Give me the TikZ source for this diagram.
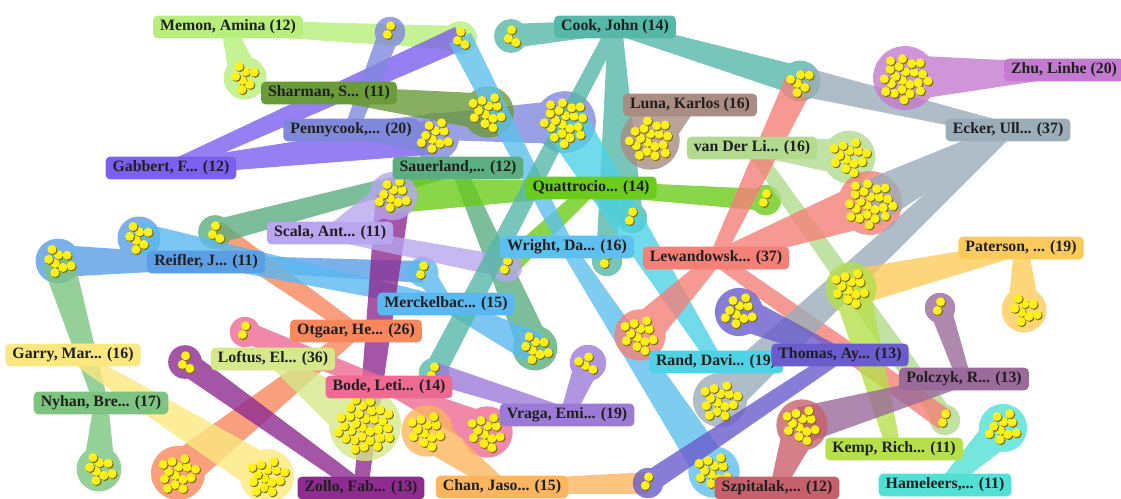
\documentclass[tikz,border=0pt]{standalone}
\usepackage{fontspec}
\setmainfont{Liberation Serif}
\usetikzlibrary{calc}

\pgfdeclarelayer{back}
\pgfdeclarelayer{front}
\pgfsetlayers{back,main,front}

% author colours
\definecolor{memonc}{HTML}{B8EF7C}
\definecolor{cookc}{HTML}{55B8A8}
\definecolor{zhuc}{HTML}{C47AD0}
\definecolor{sharmanc}{HTML}{6A9A3A}
\definecolor{lunac}{HTML}{A98C82}
\definecolor{pennyc}{HTML}{8088DC}
\definecolor{eckerc}{HTML}{9AADB9}
\definecolor{vdlc}{HTML}{B2DB8F}
\definecolor{gabbertc}{HTML}{7A5FF0}
\definecolor{sauerc}{HTML}{5AAE80}
\definecolor{quatc}{HTML}{6CCC1C}
\definecolor{scalac}{HTML}{B8A6EE}
\definecolor{wrightc}{HTML}{5EC0EE}
\definecolor{lewc}{HTML}{F48078}
\definecolor{patc}{HTML}{FCCA5A}
\definecolor{reifc}{HTML}{5A9EE6}
\definecolor{merckc}{HTML}{5AB8F0}
\definecolor{otgaarc}{HTML}{F8875C}
\definecolor{garryc}{HTML}{FCE880}
\definecolor{loftusc}{HTML}{D6E88A}
\definecolor{randc}{HTML}{4ED2E6}
\definecolor{thomasc}{HTML}{6A5CCC}
\definecolor{polcc}{HTML}{9A6A9A}
\definecolor{bodec}{HTML}{EE6A94}
\definecolor{nyhanc}{HTML}{7CC480}
\definecolor{vragac}{HTML}{9C7AD8}
\definecolor{kempc}{HTML}{B6E04A}
\definecolor{zolloc}{HTML}{8E2A90}
\definecolor{chanc}{HTML}{FBB55E}
\definecolor{szpc}{HTML}{C8606C}
\definecolor{hamc}{HTML}{52E0D4}
\definecolor{dotyellow}{HTML}{FFF01A}
\definecolor{dotshade}{HTML}{7A6E00}
\colorlet{grp}{black}

\tikzset{
  author/.style={fill=#1, rounded corners=2.5pt, inner xsep=4pt, inner ysep=2.2pt,
    text height=6.5pt, text depth=2pt, font=\bfseries\fontsize{9}{10}\selectfont,
    text=black!88},
  group/.style={transparency group, opacity=0.8, /utils/exec={\colorlet{grp}{#1}}},
}

% a cluster of papers: name, x, y, number of papers
\newcommand{\clus}[4]{%
  \coordinate (#1) at (#2,#3);
  \expandafter\xdef\csname npub#1\endcsname{#4}}

\newcommand{\disk}[1]{%
  \edef\npubs{\csname npub#1\endcsname}%
  \pgfmathsetmacro{\diskrad}{5.1*sqrt(\npubs)+8}%
  \fill[grp] (#1) circle (\diskrad);}

% tapered band from a cluster to an author
\newcommand{\tail}[2]{%
  \edef\npubs{\csname npub#1\endcsname}%
  \pgfmathsetmacro{\tailw}{0.567*0.72*(5.1*sqrt(\npubs)+8)}%
  \fill[grp] ($(#1)!\tailw pt!90:(#2)$) -- ($(#2)!4pt!-90:(#1)$)
     -- ($(#2)!4pt!90:(#1)$) -- ($(#1)!\tailw pt!-90:(#2)$) -- cycle;}

\newcommand{\pubs}[1]{%
  \edef\npubs{\csname npub#1\endcsname}%
  \foreach \k in {1,...,\npubs}{
    \pgfmathsetmacro{\dotrad}{5.1*sqrt(\k-0.5)}
    \pgfmathsetmacro{\dotang}{137.5*\k}
    \fill[dotshade] ($(#1)+(\dotang:\dotrad)+(1,1)$) circle (4.6);
    \fill[dotyellow] ($(#1)+(\dotang:\dotrad)$) circle (4.5);
  }}

\begin{document}
\begin{tikzpicture}[x=0.02cm, y=-0.02cm]

	\path[use as bounding box] (0,0) rectangle (1121,498);

	% clusters of papers
	\clus{memon1}{245}{78}{7}
	\clus{penny1}{390}{32}{2}
	\clus{memon2}{460}{38}{3}
	\clus{cook1}{511}{36}{3}
	\clus{sharman1}{488}{112}{12}
	\clus{penny2}{565}{122}{20}
	\clus{penny3}{435}{137}{10}
	\clus{luna1}{650}{140}{18}
	\clus{cook2}{800}{81}{6}
	\clus{zhu1}{905}{78}{22}
	\clus{vdl1}{849}{157}{13}
	\clus{lew1}{870}{203}{22}
	\clus{quat1}{766}{200}{2}
	\clus{quat2}{632}{218}{2}
	\clus{scala1}{393}{196}{10}
	\clus{sauer1}{215}{232}{3}
	\clus{reif1}{139}{238}{7}
	\clus{reif2}{58}{261}{8}
	\clus{merck1}{423}{272}{2}
	\clus{scala2}{507}{267}{2}
	\clus{cook3}{607}{261}{2}
	\clus{sauer2}{535}{348}{8}
	\clus{lew2}{640}{335}{12}
	\clus{thomas1}{739}{312}{10}
	\clus{kemp1}{851}{288}{12}
	\clus{pat1}{1024}{310}{8}
	\clus{polc1}{940}{308}{2}
	\clus{bode1}{245}{332}{2}
	\clus{zollo1}{185}{362}{3}
	\clus{loftus1}{365}{425}{30}
	\clus{chan1}{427}{431}{12}
	\clus{bode2}{487}{432}{12}
	\clus{vraga1}{588}{363}{4}
	\clus{cook4}{434}{373}{2}
	\clus{ecker1}{720}{400}{14}
	\clus{szp1}{802}{425}{12}
	\clus{vdl2}{945}{420}{2}
	\clus{ham1}{1003}{428}{10}
	\clus{wright1}{714}{472}{12}
	\clus{thomas2}{648}{483}{2}
	\clus{nyhan1}{99}{469}{8}
	\clus{otgaar1}{178}{473}{14}
	\clus{garry1}{267}{476}{14}

	% authors
	\begin{pgfonlayer}{front}
	\node[author=memonc] (memon) at (228,27) {Memon, Amina (12)};
	\node[author=cookc] (cook) at (615,27) {Cook, John (14)};
	\node[author=zhuc] (zhu) at (1064,70) {Zhu, Linhe (20)};
	\node[author=sharmanc] (sharman) at (329,93) {Sharman, S... (11)};
	\node[author=lunac] (luna) at (690,105) {Luna, Karlos (16)};
	\node[author=pennyc] (penny) at (351,130) {Pennycook,... (20)};
	\node[author=eckerc] (ecker) at (1008,130) {Ecker, Ull... (37)};
	\node[author=vdlc] (vdl) at (752,148) {van Der Li... (16)};
	\node[author=gabbertc] (gabbert) at (171,168) {Gabbert, F... (12)};
	\node[author=sauerc] (sauer) at (458,168) {Sauerland,... (12)};
	\node[author=quatc] (quat) at (591,188) {Quattrocio... (14)};
	\node[author=scalac] (scala) at (330,233) {Scala, Ant... (11)};
	\node[author=wrightc] (wright) at (567,247) {Wright, Da... (16)};
	\node[author=lewc] (lew) at (716,258) {Lewandowsk... (37)};
	\node[author=patc] (pat) at (1021,248) {Paterson, ... (19)};
	\node[author=reifc] (reif) at (206,262) {Reifler, J... (11)};
	\node[author=merckc] (merck) at (446,304) {Merckelbac... (15)};
	\node[author=otgaarc] (otgaar) at (356,331) {Otgaar, He... (26)};
	\node[author=garryc] (garry) at (73,355) {Garry, Mar... (16)};
	\node[author=loftusc] (loftus) at (273,359) {Loftus, El... (36)};
	\node[author=randc] (rand) at (716,362) {Rand, Davi... (19)};
	\node[author=thomasc] (thomas) at (840,355) {Thomas, Ay... (13)};
	\node[author=polcc] (polc) at (964,379) {Polczyk, R... (13)};
	\node[author=bodec] (bode) at (389,387) {Bode, Leti... (14)};
	\node[author=nyhanc] (nyhan) at (101,403) {Nyhan, Bre... (17)};
	\node[author=vragac] (vraga) at (567,415) {Vraga, Emi... (19)};
	\node[author=kempc] (kemp) at (894,449) {Kemp, Rich... (11)};
	\node[author=zolloc] (zollo) at (361,488) {Zollo, Fab... (13)};
	\node[author=chanc] (chan) at (502,487) {Chan, Jaso... (15)};
	\node[author=szpc] (szp) at (777,488) {Szpitalak,... (12)};
	\node[author=hamc] (ham) at (945,485) {Hameleers,... (11)};
	\end{pgfonlayer}

	% bands from authors to their papers
	\begin{pgfonlayer}{back}
	\begin{scope}[group=reifc]
		\tail{reif2}{reif} \tail{merck1}{reif}
		\disk{reif1} \disk{reif2}
	\end{scope}
	\begin{scope}[group=nyhanc]
		\tail{reif2}{nyhan} \tail{nyhan1}{nyhan} \disk{nyhan1}
	\end{scope}
	\begin{scope}[group=otgaarc]
		\tail{sauer1}{otgaar} \tail{otgaar1}{otgaar} \disk{otgaar1}
	\end{scope}
	\begin{scope}[group=sauerc]
		\tail{sauer1}{sauer} \tail{sauer2}{sauer}
		\disk{sauer1} \disk{sauer2}
	\end{scope}
	\begin{scope}[group=merckc]
		\tail{merck1}{merck} \tail{sauer2}{merck} \tail{reif1}{merck}
		\disk{merck1}
	\end{scope}
	\begin{scope}[group=garryc]
		\tail{garry1}{garry} \disk{garry1}
	\end{scope}
	\begin{scope}[group=zolloc]
		\tail{zollo1}{zollo} \tail{scala1}{zollo} \disk{zollo1}
	\end{scope}
	\begin{scope}[group=quatc]
		\tail{quat1}{quat} \tail{quat2}{quat} \tail{scala1}{quat}
		\tail{scala2}{quat} \disk{quat1}
	\end{scope}
	\begin{scope}[group=scalac]
		\tail{scala1}{scala} \tail{scala2}{scala}
		\disk{scala1} \disk{scala2}
	\end{scope}
	\begin{scope}[group=loftusc]
		\tail{loftus1}{loftus} \disk{loftus1}
	\end{scope}
	\begin{scope}[group=bodec]
		\tail{bode1}{bode} \tail{bode2}{bode}
		\disk{bode1} \disk{bode2}
	\end{scope}
	\begin{scope}[group=chanc]
		\tail{chan1}{chan} \tail{thomas2}{chan} \disk{chan1}
	\end{scope}
	\begin{scope}[group=memonc]
		\tail{memon1}{memon} \tail{memon2}{memon}
		\disk{memon1} \disk{memon2}
	\end{scope}
	\begin{scope}[group=gabbertc]
		\tail{memon2}{gabbert} \tail{penny3}{gabbert}
	\end{scope}
	\begin{scope}[group=pennyc]
		\tail{penny1}{penny} \tail{penny2}{penny} \tail{penny3}{penny}
		\disk{penny1} \disk{penny2} \disk{penny3}
	\end{scope}
	\begin{scope}[group=sharmanc]
		\tail{sharman1}{sharman} \disk{sharman1}
	\end{scope}
	\begin{scope}[group=wrightc]
		\tail{memon2}{wright} \tail{wright1}{wright} \disk{wright1}
	\end{scope}
	\begin{scope}[group=cookc]
		\tail{cook1}{cook} \tail{cook2}{cook} \tail{cook4}{cook}
		\tail{quat2}{cook} \tail{cook3}{cook}
		\disk{cook1} \disk{cook2} \disk{cook3} \disk{cook4} \disk{quat2}
	\end{scope}
	\begin{scope}[group=randc]
		\tail{penny2}{rand}
	\end{scope}
	\begin{scope}[group=vragac]
		\tail{vraga1}{vraga} \tail{cook4}{vraga} \disk{vraga1}
	\end{scope}
	\begin{scope}[group=lunac]
		\tail{luna1}{luna} \disk{luna1}
	\end{scope}
	\begin{scope}[group=vdlc]
		\tail{vdl1}{vdl} \tail{vdl2}{vdl} \disk{vdl1} \disk{vdl2}
	\end{scope}
	\begin{scope}[group=lewc]
		\tail{lew1}{lew} \tail{lew2}{lew} \tail{cook2}{lew} \tail{vdl2}{lew}
		\disk{lew1} \disk{lew2}
	\end{scope}
	\begin{scope}[group=eckerc]
		\tail{cook2}{ecker} \tail{lew1}{ecker} \tail{ecker1}{ecker}
		\disk{ecker1}
	\end{scope}
	\begin{scope}[group=zhuc]
		\tail{zhu1}{zhu} \disk{zhu1}
	\end{scope}
	\begin{scope}[group=thomasc]
		\tail{thomas1}{thomas} \tail{thomas2}{thomas}
		\disk{thomas1} \disk{thomas2}
	\end{scope}
	\begin{scope}[group=patc]
		\tail{kemp1}{pat} \tail{pat1}{pat} \disk{pat1}
	\end{scope}
	\begin{scope}[group=kempc]
		\tail{kemp1}{kemp} \disk{kemp1}
	\end{scope}
	\begin{scope}[group=polcc]
		\tail{polc1}{polc} \tail{szp1}{polc} \disk{polc1}
	\end{scope}
	\begin{scope}[group=szpc]
		\tail{szp1}{szp} \disk{szp1}
	\end{scope}
	\begin{scope}[group=hamc]
		\tail{ham1}{ham} \disk{ham1}
	\end{scope}
	\end{pgfonlayer}

	% the papers
	\foreach \c in {memon1,penny1,memon2,cook1,sharman1,penny2,penny3,luna1,
		cook2,zhu1,vdl1,lew1,quat1,quat2,scala1,sauer1,reif1,reif2,merck1,
		scala2,cook3,sauer2,lew2,thomas1,kemp1,pat1,polc1,bode1,zollo1,
		loftus1,chan1,bode2,vraga1,cook4,ecker1,szp1,vdl2,ham1,wright1,
		thomas2,nyhan1,otgaar1,garry1}
		{\pubs{\c}}

\end{tikzpicture}
\end{document}
